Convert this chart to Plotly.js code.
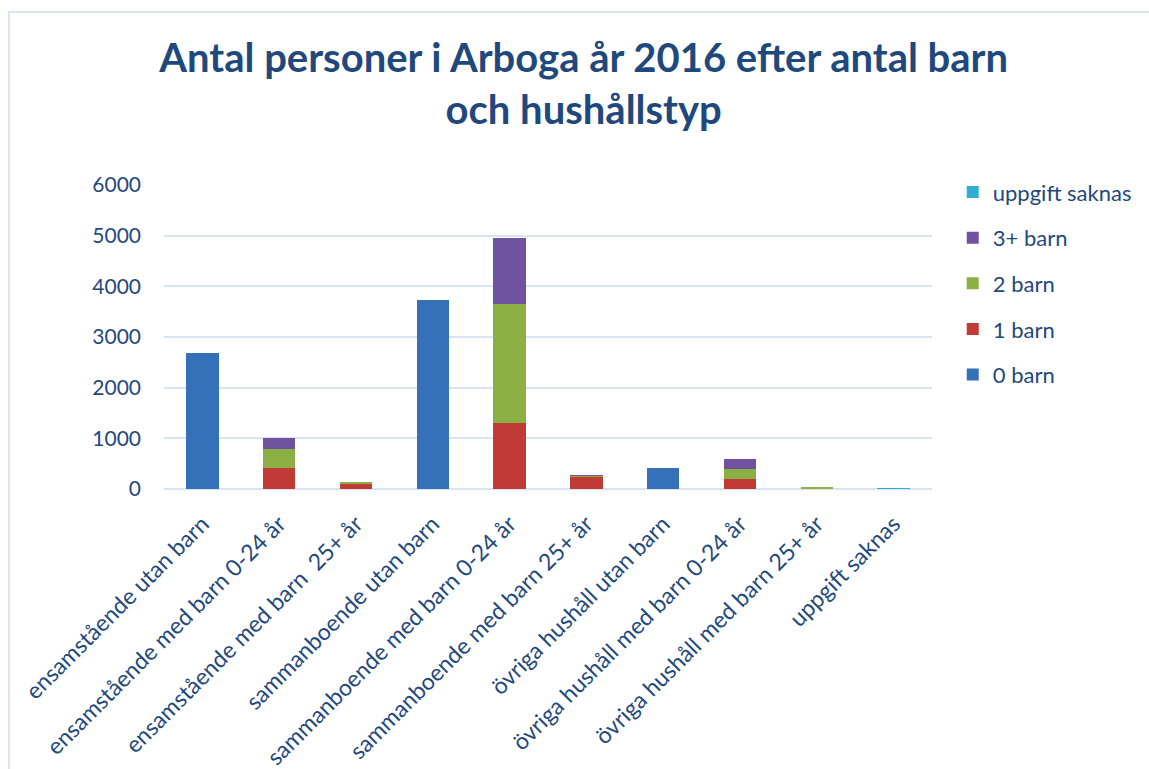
<!DOCTYPE html>
<html>
<head>
<meta charset="utf-8">
<script src="https://cdn.plot.ly/plotly-3.0.1.min.js"></script>
<style>
  html, body { margin: 0; padding: 0; background: #ffffff; }
  #frame { position: absolute; left: 8px; top: 11px; width: 1200px; height: 800px;
           border-left: 2px solid #dbe5f3; border-top: 2px solid #dbe5f3; }
  #chart { position: absolute; left: 0; top: 0; width: 1149px; height: 769px; }
</style>
</head>
<body>
<div id="frame"></div>
<div id="chart"></div>
<script>
const categories = [
  "ensamstående utan barn",
  "ensamstående med barn 0-24 år",
  "ensamstående med barn\u00a0 25+ år",
  "sammanboende utan barn",
  "sammanboende med barn 0-24 år",
  "sammanboende med barn 25+ år",
  "övriga hushåll utan barn",
  "övriga hushåll med barn 0-24 år",
  "övriga hushåll med barn 25+ år",
  "uppgift saknas"
];
const barn0   = [2690, 0, 0, 3740, 0, 0, 405, 0, 0, 0];
const barn1   = [0, 410, 90, 0, 1300, 240, 0, 190, 0, 0];
const barn2   = [0, 370, 40, 0, 2360, 20, 0, 195, 30, 0];
const barn3   = [0, 235, 5, 0, 1295, 25, 0, 215, 0, 0];
const saknas  = [0, 0, 0, 0, 0, 0, 0, 0, 0, 25];

const seriesNames  = ["0 barn", "1 barn", "2 barn", "3+ barn", "uppgift saknas"];
const seriesValues = [barn0, barn1, barn2, barn3, saknas];
const seriesColors = ["#3471b8", "#c13a36", "#8cb043", "#6f52a0", "#33add2"];

const textColor = "#1f497d";

const traces = seriesNames.map((name, i) => ({
  type: "bar",
  name: name,
  x: categories,
  y: seriesValues[i],
  legendgroup: "g" + i,
  legendrank: 1000 - i,
  marker: { color: seriesColors[i], line: { width: 0 } },
  hoverinfo: "x+y+name"
}));

const layout = {
  width: 1149,
  height: 769,
  paper_bgcolor: "rgba(0,0,0,0)",
  plot_bgcolor: "rgba(0,0,0,0)",
  barmode: "stack",
  bargap: 0.58,
  margin: { l: 164, r: 217, t: 185, b: 279.5 },
  font: { family: "Lato, 'Open Sans', sans-serif", color: textColor },
  title: {
    text: "<b>Antal personer i Arboga år 2016 efter antal barn<br>och hushållstyp</b>",
    font: { family: "Lato, 'Open Sans', sans-serif", size: 40, color: textColor },
    x: 0.508, xref: "container", xanchor: "center",
    y: 1 - 72 / 769, yref: "container", yanchor: "top"
  },
  xaxis: {
    type: "category",
    tickangle: -45,
    tickfont: { size: 23, color: textColor },
    ticklabelstandoff: 16,
    showgrid: false,
    showline: false,
    ticks: "",
    automargin: false
  },
  yaxis: {
    range: [0, 6000],
    dtick: 1000,
    tickfont: { size: 21, color: textColor },
    showgrid: true,
    gridcolor: "#d9e3f2",
    gridwidth: 2,
    zeroline: true,
    zerolinecolor: "#d9e3f2",
    zerolinewidth: 2,
    showline: false,
    ticks: "",
    ticklabelstandoff: 22,
    automargin: false
  },
  legend: {
    x: 1.027, xanchor: "left",
    y: 1.045, yanchor: "top",
    traceorder: "grouped",
    tracegroupgap: 14,
    font: { size: 22, color: textColor },
    itemwidth: 30,
    bgcolor: "rgba(0,0,0,0)"
  },
  showlegend: true
};

Plotly.newPlot("chart", traces, layout, { displayModeBar: false, staticPlot: true });
</script>
</body>
</html>
